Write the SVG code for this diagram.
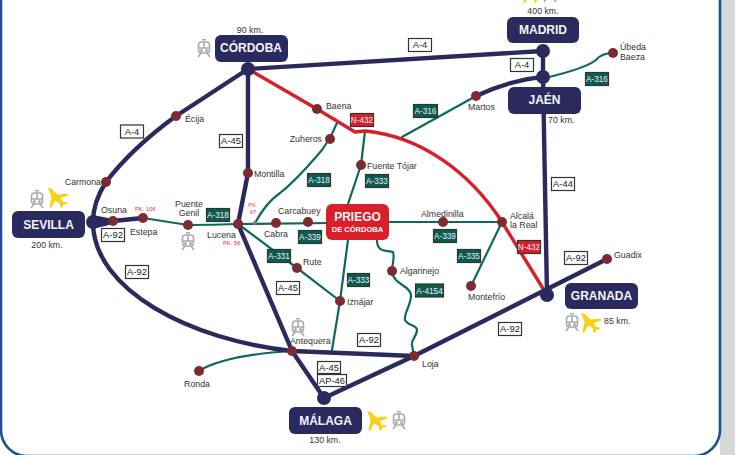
<svg xmlns="http://www.w3.org/2000/svg" width="743" height="455" viewBox="0 0 743 455">
<style>
text{font-family:"Liberation Sans",Arial,sans-serif;font-size:8.8px;fill:#333}
.m{text-anchor:middle}.e{text-anchor:end}
.pk{font-size:5.8px;fill:#e0323c}
.c{fill:none;stroke-linecap:round;stroke-linejoin:round}
.n{stroke:#2a2a5e;stroke-width:4.4}
.g{stroke:#0b6b58;stroke-width:2.2}
.r{stroke:#d81f2a;stroke-width:3.4}
.d{fill:#7d2a30}
.j{fill:#2a2a5e}
.city{fill:#2a2a5e}
.ct{font-size:12px;font-weight:bold;fill:#f4f4f8;text-anchor:middle}
.bw{fill:#fff;stroke:#333;stroke-width:1.2}
.bg{fill:#0b5c4c;stroke:#333;stroke-width:1.2}
.br{fill:#d81f2a;stroke:#333;stroke-width:1.2}
.tw{font-size:9.4px;text-anchor:middle;fill:#222}
.ty{font-size:8.2px;text-anchor:middle;fill:#eef}
</style>
<defs>
<g id="plane"><path d="M0,0 L4,1 L9.5,6.5 L19.5,5.5 L20,7.5 L12.5,10 L15,14 L19,14.5 L19.5,16 L15.5,16.5 L14,20 L12.5,19 L11.500,15 L7,12.5 L3,20 L1.500,19.500 L3.500,9 Z" fill="#f7d117"/></g>
<g id="train" fill="none" stroke="#a9abab" stroke-width="1.6"><rect x="1.500" y="3" width="11" height="11" rx="3"/><path d="M1.500,9 H12.500 M7,3 V9 M4,14 L1,18 M10,14 L13,18 M5,0.800 H9"/><circle cx="4.500" cy="11.500" r="0.700"/><circle cx="9.500" cy="11.500" r="0.700"/></g>
</defs>

<rect x="720" y="0" width="15" height="455" fill="#d6d8d8"/>
<rect x="1" y="-40" width="719" height="496" rx="26" fill="#fff" stroke="#1d4f91" stroke-width="2.6"/>

<g id="connectors">
<path class="c g" d="M143,218 L188,225 Q212,225 238,224 L330,223"/>
<path class="c g" d="M255,223 C262,210 270,200 280,193 C293,183 305,170 322,150 L330,138 L337,123"/>
<path class="c g" d="M238,224 L297,268 L340,301"/>
<path class="c g" d="M365,131 L361,165 L348,204 M348,240 L340,301 L332,350"/>
<path class="c g" d="M389,222 H502 M502,222 L471,286"/>
<path class="c g" d="M377,240 C377,252 385,250 393,252 C395,258 392,265 392,271 C393,285 410,285 411,295 C411,306 404,312 405,320 C408,326 417,325 417,330 C417,336 411,340 412,345 L414,356"/>
<path class="c g" d="M199,371 C220,358 260,353 292,351"/>
<path class="c g" d="M402,137 L476,96"/>
<path class="c g" d="M545,78 C570,72 590,65 596,60 C600,55 605,53 613,53"/>
<path class="c r" d="M248,69 L317,109 L355,132 L365,131 C420,136 470,172 502,222 L547,295"/>
<path class="c n" d="M248,69 L176,116 Q132,148 106,182 Q93,202 93,222 C93,290 190,340 292,351 L414,356"/>
<path class="c n" d="M248,69 L248,173 L238,224 L292,351 L324,398 L414,356 L607,259"/>
<path class="c n" d="M248,69 L543,51 L543,77 L547,295"/>
<path class="c n" d="M543,77 Q510,80 476,96"/>
<path class="c n" d="M93,222 L113,221 L143,218"/>
<path class="j" d="M93,215 L113,219 L113,224 L93,229 Z"/>
</g>

<g id="junctions">
<circle class="j" cx="248" cy="69" r="7"/><circle class="j" cx="543" cy="51" r="7"/><circle class="j" cx="543" cy="77" r="7"/><circle class="j" cx="547" cy="295" r="7"/><circle class="j" cx="93" cy="222" r="7"/><circle class="j" cx="324" cy="398" r="7"/>
</g>

<g id="node-sevilla"><rect class="city" x="12" y="211" width="73" height="27" rx="6"/><text class="ct" x="48.500" y="229">SEVILLA</text><text class="m" x="47" y="248">200 km.</text><use href="#train" x="30" y="190"/><use href="#plane" x="48" y="188"/></g>
<g id="node-cordoba"><rect class="city" x="215" y="35" width="73" height="27" rx="6"/><text class="ct" x="251" y="52">CÓRDOBA</text><text class="m" x="250" y="33">90 km.</text><use href="#train" x="197" y="39"/></g>
<g id="node-madrid"><rect class="city" x="507" y="17" width="72" height="26" rx="6"/><text class="ct" x="543" y="34">MADRID</text><text class="m" x="543" y="14">400 km.</text><use href="#plane" x="522" y="-17"/><use href="#train" x="543" y="-16"/></g>
<g id="node-jaen"><rect class="city" x="508" y="87" width="73" height="27" rx="6"/><text class="ct" x="544.500" y="104">JAÉN</text><text x="548" y="123">70 km.</text></g>
<g id="node-granada"><rect class="city" x="565" y="283" width="73" height="26" rx="6"/><text class="ct" x="601.500" y="300">GRANADA</text><text x="604" y="324">85 km.</text><use href="#train" x="565" y="313"/><use href="#plane" x="581" y="313"/></g>
<g id="node-malaga"><rect class="city" x="289" y="407" width="73" height="27" rx="6"/><text class="ct" x="325.500" y="425">MÁLAGA</text><text class="m" x="325" y="443">130 km.</text><use href="#plane" x="367" y="411"/><use href="#train" x="392" y="411"/></g>
<g id="node-priego"><rect x="326" y="204" width="63" height="36" rx="6" fill="#d81f2a"/><text class="ct" x="357.500" y="221">PRIEGO</text><text class="m" x="357.500" y="232" style="font-size:7.5px;font-weight:bold;fill:#fff">DE CÓRDOBA</text></g>

<g id="node-ecija"><circle class="d" cx="176" cy="116" r="5"/><text x="185" y="122">Écija</text></g>
<g id="node-carmona"><circle class="d" cx="106" cy="182" r="5"/><text class="e" x="101" y="185">Carmona</text></g>
<g id="node-osuna"><circle class="d" cx="113" cy="221" r="5"/><text x="101" y="213">Osuna</text></g>
<g id="node-estepa"><circle class="d" cx="143" cy="218" r="5"/><text x="130" y="235">Estepa</text><text class="pk" x="135" y="211">PK. 106</text></g>
<g id="node-puente-genil"><circle class="d" cx="188" cy="225" r="5"/><text class="m" x="189" y="207">Puente</text><text class="m" x="189" y="216">Genil</text><use href="#train" x="181" y="232"/></g>
<g id="node-lucena"><circle class="d" cx="238" cy="224" r="5"/><text x="207" y="238">Lucena</text><text class="pk" x="223" y="245">PK. 56</text></g>
<g id="node-pk47"><circle cx="255" cy="223" r="2" fill="#777"/><text class="pk m" x="253" y="207">PK.</text><text class="pk m" x="253" y="214">47</text></g>
<g id="node-montilla"><circle class="d" cx="248" cy="173" r="5"/><text x="254" y="177">Montilla</text></g>
<g id="node-cabra"><circle class="d" cx="276" cy="223" r="5"/><text x="264" y="237">Cabra</text></g>
<g id="node-carcabuey"><circle class="d" cx="308" cy="222" r="5"/><text x="278" y="214">Carcabuey</text></g>
<g id="node-rute"><circle class="d" cx="297" cy="268" r="5"/><text x="303" y="265">Rute</text></g>
<g id="node-iznajar"><circle class="d" cx="340" cy="301" r="5"/><text x="347" y="305">Iznájar</text></g>
<g id="node-antequera"><circle class="d" cx="292" cy="351" r="5"/><text x="290" y="344">Antequera</text><use href="#train" x="291" y="318"/></g>
<g id="node-ronda"><circle class="d" cx="199" cy="371" r="5"/><text class="m" x="197" y="387">Ronda</text></g>
<g id="node-loja"><circle class="d" cx="414" cy="356" r="5"/><text x="422" y="367">Loja</text></g>
<g id="node-algarinejo"><circle class="d" cx="392" cy="271" r="5"/><text x="400" y="274">Algarinejo</text></g>
<g id="node-almedinilla"><circle class="d" cx="443" cy="222" r="5"/><text x="421" y="217">Almedinilla</text></g>
<g id="node-alcala"><circle class="d" cx="502" cy="222" r="5"/><text x="510" y="219">Alcalá</text><text x="510" y="228">la Real</text></g>
<g id="node-montefrio"><circle class="d" cx="471" cy="286" r="5"/><text x="468" y="300">Montefrío</text></g>
<g id="node-guadix"><circle class="d" cx="607" cy="259" r="5"/><text x="614" y="258">Guadix</text></g>
<g id="node-ubeda"><circle class="d" cx="613" cy="53" r="5"/><text x="620" y="50">Úbeda</text><text x="620" y="60">Baeza</text></g>
<g id="node-martos"><circle class="d" cx="476" cy="96" r="5"/><text x="468" y="110">Martos</text></g>
<g id="node-baena"><circle class="d" cx="317" cy="109" r="5"/><text x="326" y="109">Baena</text></g>
<g id="node-zuheros"><circle class="d" cx="330" cy="139" r="5"/><text class="e" x="322" y="142">Zuheros</text></g>
<g id="node-fuente-tojar"><circle class="d" cx="361" cy="165" r="5"/><text x="367" y="169">Fuente Tójar</text></g>

<g id="road-labels">
<rect class="bw" x="120.500" y="125" width="23" height="13"/><text class="tw" x="132" y="134.800">A-4</text>
<rect class="bw" x="219.500" y="134.500" width="23" height="13"/><text class="tw" x="231" y="144.300">A-45</text>
<rect class="bw" x="101.500" y="228.500" width="23" height="13"/><text class="tw" x="113" y="238.300">A-92</text>
<rect class="bw" x="125.500" y="265.500" width="23" height="13"/><text class="tw" x="137" y="275.300">A-92</text>
<rect class="bw" x="408.500" y="38.500" width="23" height="13"/><text class="tw" x="420" y="48.300">A-4</text>
<rect class="bw" x="510.500" y="58.500" width="23" height="13"/><text class="tw" x="522" y="68.300">A-4</text>
<rect class="bw" x="551.500" y="177.500" width="23" height="13"/><text class="tw" x="563" y="187.300">A-44</text>
<rect class="bw" x="564.500" y="251.500" width="23" height="13"/><text class="tw" x="576" y="261.300">A-92</text>
<rect class="bw" x="498.500" y="322.500" width="23" height="13"/><text class="tw" x="510" y="332.300">A-92</text>
<rect class="bw" x="276.500" y="281.500" width="23" height="13"/><text class="tw" x="288" y="291.300">A-45</text>
<rect class="bw" x="357.500" y="333.500" width="23" height="13"/><text class="tw" x="369" y="343.300">A-92</text>
<rect class="bw" x="317.500" y="361.500" width="23" height="12"/><text class="tw" x="329" y="371">A-45</text>
<rect class="bw" x="317.500" y="374.500" width="29" height="12"/><text class="tw" x="332" y="384">AP-46</text>

<rect class="bg" x="206.500" y="208.500" width="23" height="13"/><text class="ty" x="218" y="218">A-318</text>
<rect class="bg" x="307.500" y="173.500" width="23" height="13"/><text class="ty" x="319" y="183">A-318</text>
<rect class="bg" x="365.500" y="174.500" width="23" height="13"/><text class="ty" x="377" y="184">A-333</text>
<rect class="bg" x="298.500" y="230.500" width="23" height="13"/><text class="ty" x="310" y="240">A-339</text>
<rect class="bg" x="267.500" y="249.500" width="23" height="13"/><text class="ty" x="279" y="259">A-331</text>
<rect class="bg" x="347.500" y="273.500" width="22" height="13"/><text class="ty" x="358.500" y="283">A-333</text>
<rect class="bg" x="415.500" y="284" width="28" height="13"/><text class="ty" x="429.500" y="293.500">A-4154</text>
<rect class="bg" x="433.500" y="229.500" width="23" height="13"/><text class="ty" x="445" y="239">A-339</text>
<rect class="bg" x="457.500" y="249.500" width="23" height="13"/><text class="ty" x="469" y="259">A-335</text>
<rect class="bg" x="413.500" y="104.500" width="24" height="13"/><text class="ty" x="425.500" y="114">A-316</text>
<rect class="bg" x="585.500" y="72.500" width="23" height="13"/><text class="ty" x="597" y="82">A-316</text>
<rect class="br" x="350.500" y="113.500" width="23" height="13"/><text class="ty" x="362" y="123">N-432</text>
<rect class="br" x="517.500" y="240.500" width="23" height="13"/><text class="ty" x="529" y="250">N-432</text>
</g>
</svg>
